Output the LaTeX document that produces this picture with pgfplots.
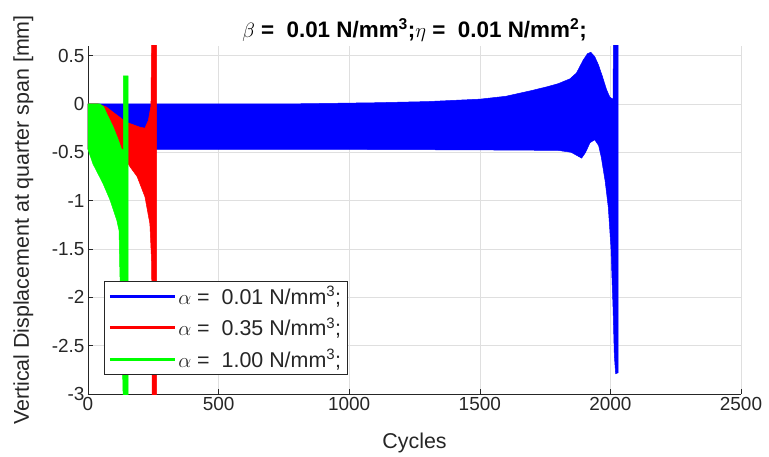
\documentclass[border=0pt]{standalone}
\usepackage{fontspec}
\setmainfont{Liberation Sans}
\usepackage{pgfplots}
\pgfplotsset{compat=1.18}
\usepackage{xcolor}
\definecolor{axgray}{RGB}{38,38,38}
\definecolor{gridgray}{RGB}{223,223,223}
\definecolor{mblue}{RGB}{0,0,255}
\definecolor{mred}{RGB}{255,0,0}
\definecolor{mgreen}{RGB}{0,255,0}

\begin{document}
\begin{tikzpicture}
\begin{axis}[
  width=653bp, height=348bp, scale only axis,
  xmin=0, xmax=2500, ymin=-3, ymax=0.6,
  xtick={0,500,...,2500},
  ytick={-3,-2.5,-2,-1.5,-1,-0.5,0,0.5},
  axis x line*=bottom, axis y line*=left,
  axis line style={-, axgray, line width=0.6bp},
  tick align=inside, major tick length=5bp,
  tick style={axgray, line width=0.6bp},
  xmajorgrids, ymajorgrids,
  grid style={gridgray, line width=0.6bp},
  scaled ticks=false,
  /pgf/number format/assume math mode=true,
  /pgf/number format/1000 sep={},
  tick label style={font=\fontsize{19}{22}\selectfont, text=axgray},
  xlabel={Cycles},
  ylabel={Vertical Displacement at quarter span [mm]},
  xlabel style={at={(axis description cs:0.5,-0.158)}, anchor=base,
    font=\fontsize{21.5}{24}\selectfont, text=axgray},
  ylabel style={at={(axis description cs:-0.0904,0.5)}, anchor=base,
    font=\fontsize{21.5}{24}\selectfont, text=axgray},
  title={\textbf{$\beta$ =\ \ 0.01 N/mm\textsuperscript{3};$\eta$ =\ \ 0.01 N/mm\textsuperscript{2};}},
  title style={at={(axis description cs:0.5,1.008)}, anchor=base,
    font=\fontsize{22.5}{26}\selectfont, text=black},
  legend style={at={(rel axis cs:0.0245,0.057)}, anchor=south west,
    draw=axgray, line width=0.6bp, fill=white,
    font=\fontsize{21.5}{25}\selectfont, text=axgray,
    inner xsep=4bp, inner ysep=3bp, row sep=8bp},
  legend cell align=left,
  legend image code/.code={\draw[#1] (0bp,0bp) -- (65bp,0bp);},
]
% blue: alpha = 0.01
\addplot[fill=mblue, draw=mblue, line width=0.5bp, forget plot] coordinates {
  (0,0) (400,0) (800,0.002) (1100,0.013) (1300,0.025) (1500,0.05)
  (1600,0.08) (1700,0.14) (1760,0.18) (1800,0.21) (1845,0.26) (1870,0.32)
  (1895,0.45) (1912,0.52) (1925,0.535) (1940,0.49) (1955,0.40) (1970,0.28)
  (1985,0.15) (1998,0.07) (2010,0.05) (2012,0.75) (2030,0.75) (2030,-2.78)
  (2020,-2.79) (2015,-2.6) (2010,-2.1) (2002,-1.48) (1992,-1.07) (1980,-0.8)
  (1965,-0.55) (1955,-0.43) (1940,-0.37) (1922,-0.40) (1905,-0.50)
  (1890,-0.56) (1870,-0.53) (1850,-0.50) (1800,-0.48) (1500,-0.475)
  (1000,-0.47) (0,-0.47)
} -- cycle;
% red: alpha = 0.35
\addplot[fill=mred, draw=mred, line width=0.5bp, forget plot] coordinates {
  (0,0) (40,0) (70,-0.03) (96,-0.085) (148,-0.19) (199,-0.24) (218,-0.25)
  (231,-0.17) (241,-0.02) (244,0.75) (263,0.75) (263,-3.1) (246,-3.1)
  (245,-2.0) (243,-1.6) (237,-1.24) (218,-0.96) (188,-0.75) (161,-0.65)
  (150,-0.6) (120,-0.5) (0,-0.47)
} -- cycle;
% green: alpha = 1.00
\addplot[fill=mgreen, draw=mgreen, line width=0.5bp, forget plot] coordinates {
  (0,0) (46,0) (60,-0.03) (72,-0.1) (97,-0.24) (116,-0.37) (129,-0.47)
  (135,-0.47) (135,0.29) (154,0.29) (154,-3.1) (135,-3.1) (128,-2.2)
  (122,-1.75) (119,-1.31) (110,-1.2) (84,-0.99) (57,-0.82) (19,-0.62)
  (0,-0.47)
} -- cycle;
\addlegendimage{mblue, line width=3bp}
\addlegendentry{$\alpha$\ =\ \ 0.01 N/mm\textsuperscript{3};}
\addlegendimage{mred, line width=3bp}
\addlegendentry{$\alpha$\ =\ \ 0.35 N/mm\textsuperscript{3};}
\addlegendimage{mgreen, line width=3bp}
\addlegendentry{$\alpha$\ =\ \ 1.00 N/mm\textsuperscript{3};}
\end{axis}
\pgfresetboundingbox
\path[use as bounding box] (-88bp,-63bp) rectangle (681bp,394bp);
\end{tikzpicture}
\end{document}
